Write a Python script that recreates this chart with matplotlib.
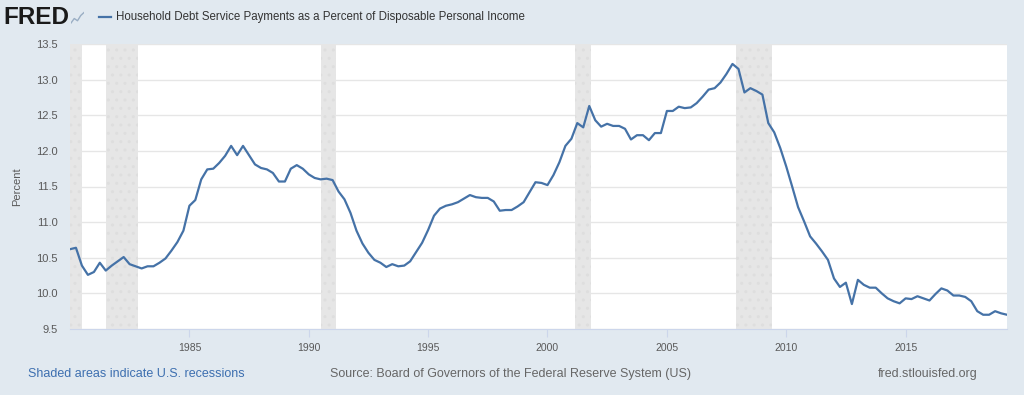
import matplotlib
matplotlib.use("Agg")
import matplotlib.pyplot as plt
from matplotlib.lines import Line2D
from matplotlib import font_manager
import pandas as pd

# quarterly data, 1980Q1 - 2019Q2
values = [
    10.62, 10.64, 10.39, 10.26,   # 1980
    10.30, 10.43, 10.32, 10.39,   # 1981
    10.45, 10.51, 10.41, 10.38,   # 1982
    10.35, 10.38, 10.38, 10.43,   # 1983
    10.49, 10.60, 10.72, 10.88,   # 1984
    11.23, 11.31, 11.60, 11.74,   # 1985
    11.75, 11.83, 11.93, 12.07,   # 1986
    11.94, 12.07, 11.94, 11.81,   # 1987
    11.76, 11.74, 11.69, 11.57,   # 1988
    11.57, 11.75, 11.80, 11.75,   # 1989
    11.67, 11.62, 11.60, 11.61,   # 1990
    11.59, 11.43, 11.32, 11.13,   # 1991
    10.88, 10.70, 10.57, 10.47,   # 1992
    10.43, 10.37, 10.41, 10.38,   # 1993
    10.39, 10.45, 10.58, 10.71,   # 1994
    10.89, 11.09, 11.19, 11.23,   # 1995
    11.25, 11.28, 11.33, 11.38,   # 1996
    11.35, 11.34, 11.34, 11.29,   # 1997
    11.16, 11.17, 11.17, 11.22,   # 1998
    11.28, 11.42, 11.56, 11.55,   # 1999
    11.52, 11.66, 11.84, 12.07,   # 2000
    12.17, 12.39, 12.33, 12.63,   # 2001
    12.43, 12.34, 12.38, 12.35,   # 2002
    12.35, 12.31, 12.16, 12.22,   # 2003
    12.22, 12.15, 12.25, 12.25,   # 2004
    12.56, 12.56, 12.62, 12.60,   # 2005
    12.61, 12.67, 12.76, 12.86,   # 2006
    12.88, 12.96, 13.08, 13.22,   # 2007
    13.15, 12.82, 12.88, 12.84,   # 2008
    12.79, 12.39, 12.26, 12.04,   # 2009
    11.78, 11.50, 11.21, 11.01,   # 2010
    10.80, 10.70, 10.59, 10.47,   # 2011
    10.21, 10.09, 10.15, 9.85,    # 2012
    10.19, 10.12, 10.08, 10.08,   # 2013
    10.00, 9.93, 9.89, 9.86,      # 2014
    9.93, 9.92, 9.96, 9.93,       # 2015
    9.90, 9.99, 10.07, 10.04,     # 2016
    9.97, 9.97, 9.95, 9.89,       # 2017
    9.75, 9.70, 9.70, 9.75,       # 2018
    9.72, 9.70,                   # 2019
]
dates = pd.date_range("1980-01-01", periods=len(values), freq="QS")

recessions = [
    ("1980-01-01", "1980-07-01"),
    ("1981-07-01", "1982-11-01"),
    ("1990-07-01", "1991-03-01"),
    ("2001-03-01", "2001-11-01"),
    ("2007-12-01", "2009-06-01"),
]
tick_years = [1985, 1990, 1995, 2000, 2005, 2010, 2015]
y_ticks = [9.5, 10.0, 10.5, 11.0, 11.5, 12.0, 12.5, 13.0, 13.5]

title = "Household Debt Service Payments as a Percent of Disposable Personal Income"

names = {f.name for f in font_manager.fontManager.ttflist}
narrow = "Liberation Sans Narrow" if "Liberation Sans Narrow" in names else "Liberation Sans"
plt.rcParams["font.family"] = ["Liberation Sans", "DejaVu Sans"]

bg = "#e1e9f0"
line_color = "#4572a7"
text_gray = "#595959"

fig = plt.figure(figsize=(10.24, 3.95), dpi=100, facecolor=bg)
ax = fig.add_axes([70 / 1024, 1 - 329 / 395, 937 / 1024, 285 / 395])
ax.set_facecolor("white")

for start, end in recessions:
    ax.axvspan(pd.Timestamp(start), pd.Timestamp(end), facecolor="#e6e6e6",
               edgecolor="#dedede", hatch="..", linewidth=0, zorder=1)

ax.plot(dates, values, color=line_color, linewidth=1.6, zorder=3)

ax.set_xlim(dates[0], dates[-1])
ax.set_ylim(9.5, 13.5)
ax.set_yticks(y_ticks)
ax.set_yticklabels([f"{v:.1f}" for v in y_ticks])
ax.grid(axis="y", color="#e6e6e6", linewidth=1, zorder=0)
ax.set_axisbelow(True)

ax.set_xticks([pd.Timestamp(f"{y}-01-01") for y in tick_years])
ax.set_xticklabels([str(y) for y in tick_years], fontname=narrow)

for side in ["top", "right", "left"]:
    ax.spines[side].set_visible(False)
ax.spines["bottom"].set_color("#ccd6eb")
ax.tick_params(axis="x", colors="#ccd6eb", length=6, labelcolor=text_gray,
               labelsize=7.5, pad=4)
ax.tick_params(axis="y", length=0, labelcolor=text_gray, labelsize=8, pad=9)

fig.text(17 / 1024, 1 - 187 / 395, "Percent", color=text_gray, fontsize=8,
         rotation=90, va="center", ha="center")

# header
fig.text(3 / 1024, 1 - 17 / 395, "FRED", fontsize=17.5, fontweight="bold",
         color="#1a1a1a", va="center", ha="left")
icon = fig.add_axes([71 / 1024, 1 - 26 / 395, 13 / 1024, 15 / 395])
icon.set_facecolor("#d3dde8")
icon.plot([0, 1, 2, 3, 4], [0.2, 0.5, 0.35, 0.7, 0.9], color="#9aaec4", lw=1)
icon.set_xlim(0, 4)
icon.set_ylim(0, 1)
icon.axis("off")
icon.patch.set_visible(True)

fig.add_artist(Line2D([99 / 1024, 111 / 1024], [1 - 17 / 395, 1 - 17 / 395],
                      color=line_color, linewidth=1.6))
fig.text(116 / 1024, 1 - 17 / 395, title, fontsize=8.3, color="#333333",
         va="center", ha="left", fontname=narrow)

# footer
fy = 1 - 374 / 395
fig.text(28 / 1024, fy, "Shaded areas indicate U.S. recessions", fontsize=9,
         color="#3d6fb0", va="center", ha="left", fontname=narrow)
fig.text(330 / 1024, fy, "Source: Board of Governors of the Federal Reserve System (US)",
         fontsize=9, color="#666666", va="center", ha="left", fontname=narrow)
fig.text(978 / 1024, fy, "fred.stlouisfed.org", fontsize=9, color="#666666",
         va="center", ha="right", fontname=narrow)

fig.savefig("out.png", dpi=100, facecolor=bg)
